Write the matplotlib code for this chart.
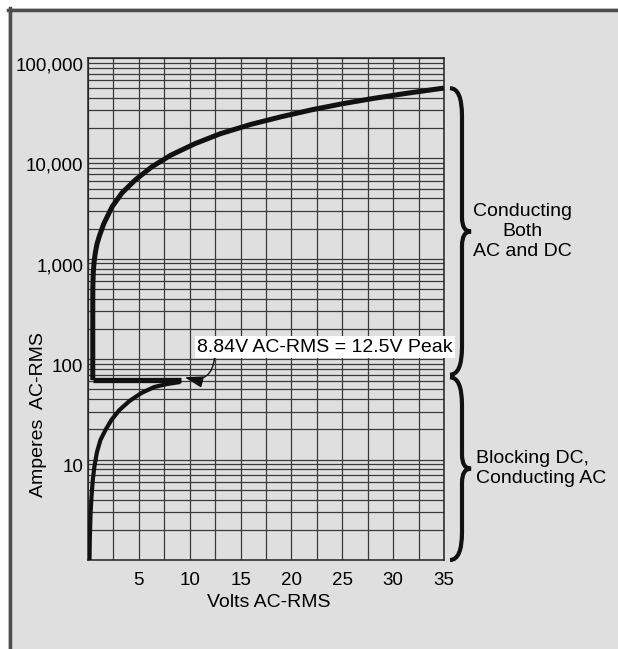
import numpy as np
import matplotlib.pyplot as plt
from matplotlib.lines import Line2D
from matplotlib.patches import Rectangle, PathPatch
from matplotlib.path import Path
from matplotlib.ticker import FixedLocator, LogLocator, NullFormatter
from matplotlib.transforms import ScaledTranslation

plt.rcParams['font.family'] = ['Liberation Sans', 'DejaVu Sans']

# values (volts AC-RMS, amperes AC-RMS)
upper_v = [0.47, 0.47, 0.48, 0.52, 0.598, 0.716, 0.882, 1.127, 1.549, 2.37, 3.35, 4.66,
           6.29, 8.09, 10.5, 13, 16, 19, 22, 25, 28, 31, 35]
upper_a = [62, 388, 548, 739, 930, 1142, 1403, 1695, 2233, 3300, 4540, 6120,
           8260, 10700, 14000, 17600, 21800, 26000, 30500, 35000, 39500, 44000, 50200]

lower_v = [0.147, 0.176, 0.245, 0.343, 0.47, 0.637, 0.882, 1.225, 1.716, 2.30, 3.09,
           4.07, 5.24, 6.52, 7.79, 9.07]
lower_a = [1, 1.58, 2.81, 4.24, 6.26, 8.64, 11.9, 15.7, 19.7, 24.8, 31.2,
           38.3, 46.0, 52.9, 56.6, 59.3]

step_v = [0.47, 9.15]
step_a = [62, 62]

ytick_vals = [10, 100, 1000, 10000, 100000]
ytick_labels = ['10', '100', '1,000', '10,000', '100,000']
xtick_vals = [5, 10, 15, 20, 25, 30, 35]

conducting_range = (70, 50000)
blocking_range = (1, 66)

note_text = '8.84V AC-RMS = 12.5V Peak'
note_tip = (9.5, 66)
note_pos = (10.7, 132)

bg = '#dfdfdf'
gridc = '#3a3a3a'

fig = plt.figure(figsize=(6.18, 6.49), dpi=100, facecolor='white')
W, H = 618, 649

# gray panel with the dark frame on top and left
fig.add_artist(Rectangle((8 / W, 0), 1 - 8 / W, 1 - 8 / H, transform=fig.transFigure,
                         facecolor=bg, edgecolor='none', zorder=0))
fig.add_artist(Line2D([9.8 / W, 9.8 / W], [0, 1 - 8.3 / H], transform=fig.transFigure,
                      color='#4d4d4d', lw=2.5))
fig.add_artist(Line2D([8.3 / W, 1], [1 - 9.8 / H, 1 - 9.8 / H], transform=fig.transFigure,
                      color='#4d4d4d', lw=2.5))

ax = fig.add_axes([88 / W, 1 - 560 / H, 356 / W, 502 / H])
ax.set_facecolor(bg)
ax.set_yscale('log')
ax.set_xlim(0, 35)
ax.set_ylim(1, 100000)

ax.set_yticks(ytick_vals)
ax.set_yticklabels(ytick_labels)
ax.yaxis.set_minor_locator(LogLocator(base=10, subs=np.arange(2, 10)))
ax.yaxis.set_minor_formatter(NullFormatter())
ax.set_xticks(xtick_vals)
ax.xaxis.set_minor_locator(FixedLocator(np.arange(0, 35.1, 2.5)))

ax.grid(True, which='both', color=gridc, lw=0.9)
ax.tick_params(which='both', length=0)
ax.tick_params(axis='y', labelsize=13.5, pad=3.5)
ax.tick_params(axis='x', labelsize=13.5, pad=8.5)
for lab in ax.get_yticklabels():
    lab.set_transform(lab.get_transform() + ScaledTranslation(0, -0.06, fig.dpi_scale_trans))
for sp in ax.spines.values():
    sp.set_color('#222222')
    sp.set_linewidth(1.1)

ax.plot(upper_v, upper_a, color='#111111', lw=3.6, solid_capstyle='butt',
        solid_joinstyle='round', zorder=3)
ax.plot(lower_v, lower_a, color='#111111', lw=3.0, solid_capstyle='butt',
        solid_joinstyle='round', zorder=3)
ax.plot(step_v, step_a, color='#111111', lw=3.8, solid_capstyle='butt', zorder=3)

ax.annotate(note_text, xy=note_tip, xytext=note_pos, ha='left', va='center', fontsize=14,
            bbox=dict(boxstyle='square,pad=0.12', fc='white', ec='none'),
            arrowprops=dict(arrowstyle='-|>,head_length=0.8,head_width=0.25', color='#111111',
                            lw=1.0, connectionstyle='arc3,rad=-0.6', relpos=(0.07, 0),
                            shrinkA=0, shrinkB=0),
            zorder=5, annotation_clip=False)

ax.set_ylabel('Amperes  AC-RMS', fontsize=14)
ax.yaxis.set_label_coords(-0.115, 0.29)
ax.set_xlabel('Volts AC-RMS', fontsize=14)
ax.xaxis.set_label_coords(0.508, -0.068)

to_axes = ax.transData + ax.transAxes.inverted()


def brace(lo, hi):
    # curly brace right of the axes, spanning lo..hi amperes
    px, py = 1 / 356, 1 / 502
    y0 = to_axes.transform((1, lo))[1]
    y1 = to_axes.transform((1, hi))[1]
    ym = (y0 + y1) / 2
    x0, xm, xt = 1 + 6 * px, 1 + 18 * px, 1 + 27 * px
    r, s = 28 * py, 14 * py
    verts = [(x0, y1), (xm, y1), (xm, y1 - r), (xm, ym + s), (xm, ym), (xt, ym),
             (xm, ym), (xm, ym - s), (xm, y0 + r), (xm, y0), (x0, y0)]
    codes = [Path.MOVETO, Path.CURVE3, Path.CURVE3, Path.LINETO, Path.CURVE3, Path.CURVE3,
             Path.CURVE3, Path.CURVE3, Path.LINETO, Path.CURVE3, Path.CURVE3]
    ax.add_patch(PathPatch(Path(verts, codes), transform=ax.transAxes, fill=False,
                           ec='#111111', lw=3.0, clip_on=False, capstyle='butt'))
    return ym


ym1 = brace(*conducting_range)
ym2 = brace(*blocking_range)
ax.text(1 + 78 / 356, ym1, 'Conducting\nBoth\nAC and DC', transform=ax.transAxes,
        ha='center', va='center', multialignment='center', fontsize=14, linespacing=1.2)
ax.text(1 + 32 / 356, ym2, 'Blocking DC,\nConducting AC', transform=ax.transAxes,
        ha='left', va='center', multialignment='left', fontsize=14, linespacing=1.2)

fig.savefig('out.png', dpi=100, facecolor=fig.get_facecolor())
